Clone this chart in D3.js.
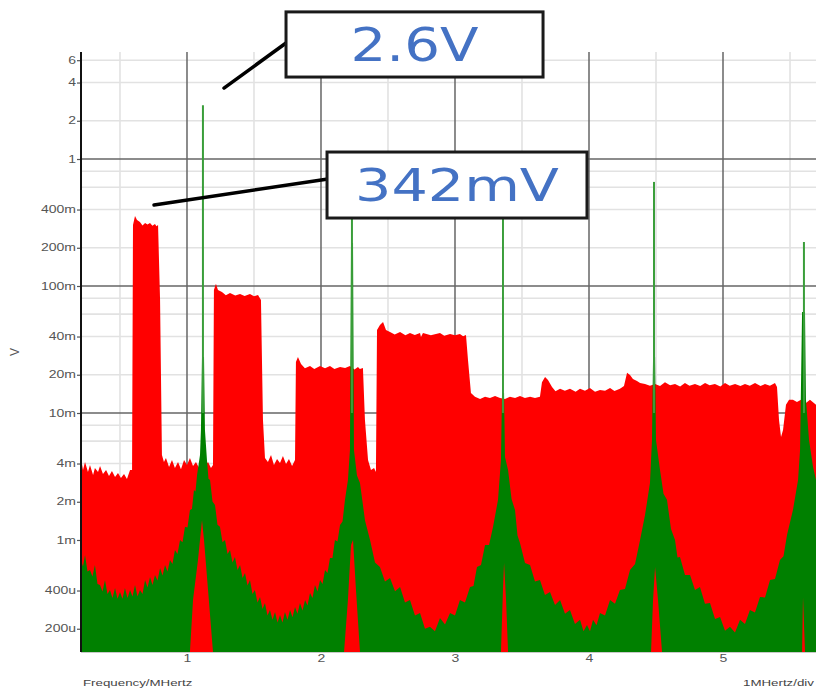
<!DOCTYPE html>
<html>
<head>
<meta charset="utf-8">
<script src="https://cdn.jsdelivr.net/npm/d3@7"></script>
<style>
  html, body { margin: 0; padding: 0; background: #fff; }
  svg { display: block; }
</style>
</head>
<body>
<svg id="chart" width="816" height="691"></svg>
<script>
// ---------------- DATA ----------------
// Red trace (upper envelope of the noise spectrum), frequency in MHz, amplitude in V
const redFreq = [0.209,0.224,0.239,0.261,0.276,0.299,0.313,0.336,0.351,0.373,0.396,0.418,0.440,0.463,0.485,0.507,0.530,0.552,0.575,0.590,
  0.597,0.612,0.627,0.649,0.687,0.724,0.761,0.784,0.799,0.813,0.828,0.843,0.866,0.888,0.910,0.933,0.955,0.978,1.000,1.022,1.045,1.067,1.090,1.112,1.134,1.157,1.179,1.194,
  1.201,1.216,1.231,1.261,1.321,1.396,1.470,1.530,1.552,1.567,1.582,1.604,1.627,1.649,1.672,1.694,1.716,1.739,1.761,1.784,1.806,
  1.813,1.828,1.851,1.918,1.993,2.067,2.142,2.216,2.276,2.313,2.328,2.351,2.373,2.396,2.410,
  2.418,2.440,2.463,2.485,2.515,2.590,2.664,2.739,2.746,2.761,2.888,2.963,3.037,3.082,3.097,3.119,
  3.149,3.187,3.224,3.261,3.299,3.336,3.373,3.410,3.448,3.485,3.522,3.560,3.597,3.634,
  3.649,3.672,3.694,3.724,3.784,3.858,3.933,4.007,4.082,4.157,4.231,4.261,4.284,4.306,4.328,4.358,4.381,4.418,
  4.493,4.567,4.642,4.716,4.791,4.866,4.940,5.015,5.090,5.164,5.239,5.313,5.388,5.403,
  5.418,5.433,5.448,5.470,5.493,5.522,5.552,5.582,5.619,5.649,5.694];
const redVolts = [4.42e-3,3.56e-3,4.11e-3,3.43e-3,3.90e-3,3.25e-3,3.69e-3,3.43e-3,3.83e-3,3.31e-3,3.56e-3,3.19e-3,3.49e-3,3.13e-3,3.37e-3,3.08e-3,3.31e-3,3.02e-3,3.56e-3,3.56e-3,
  0.302,0.356,0.331,0.319,0.313,0.313,0.308,0.302,0.0776,4.67e-3,4.11e-3,4.42e-3,3.76e-3,4.27e-3,3.69e-3,4.11e-3,3.61e-3,4.27e-3,3.90e-3,4.42e-3,3.83e-3,4.11e-3,3.69e-3,4.04e-3,3.83e-3,4.11e-3,3.69e-3,3.90e-3,
  0.093,0.104,0.093,0.0897,0.088,0.0865,0.0865,0.085,0.0776,8.81e-3,4.42e-3,4.11e-3,4.67e-3,3.90e-3,4.34e-3,4.04e-3,4.59e-3,3.97e-3,4.34e-3,3.83e-3,4.27e-3,
  0.0252,0.0276,0.0243,0.0234,0.0234,0.0234,0.0230,0.0234,0.0230,0.0226,8.81e-3,4.27e-3,3.56e-3,3.69e-3,3.43e-3,
  0.045,0.0493,0.052,0.045,0.0434,0.0434,0.0426,0.0426,0.0397,0.0426,0.0426,0.0419,0.0419,0.0411,0.0261,0.0144,
  0.0134,0.0129,0.0134,0.0131,0.0136,0.0131,0.0129,0.0134,0.0131,0.0136,0.0131,0.0134,0.0131,0.0134,
  0.0175,0.0192,0.0182,0.0160,0.0155,0.0155,0.0155,0.0157,0.0152,0.0157,0.0155,0.0163,0.0207,0.0199,0.0185,0.0179,0.0172,0.0169,
  0.0169,0.0175,0.0169,0.0172,0.0169,0.0172,0.0169,0.0172,0.0169,0.0169,0.0172,0.0169,0.0172,0.0160,
  8.81e-3,6.47e-3,7.34e-3,0.0116,0.0127,0.0127,0.0122,0.0127,0.0120,0.0127,0.0116];
// Small dips on the flat tops of the red blocks
const redNotchFreq = [0.668,0.705,0.742,0.772, 1.29,1.36,1.43,1.50, 1.88,1.95,2.03,2.10,2.18,2.25,2.29,
  2.55,2.63,2.70,2.82,2.92,3.00,3.06, 3.75,3.82,3.90,3.97,4.045,4.12,4.19,
  4.455,4.53,4.605,4.68,4.75,4.83,4.90,4.98,5.05,5.13,5.20,5.28,5.35];
const redNotchVolts = [0.300,0.305,0.298,0.295, 0.0845,0.084,0.0835,0.083, 0.0225,0.0222,0.0225,0.0222,0.0226,0.022,0.0222,
  0.0415,0.041,0.0412,0.041,0.0405,0.041,0.0402, 0.0148,0.0150,0.0147,0.0150,0.0147,0.0150,0.0149,
  0.0164,0.0163,0.0165,0.0162,0.0164,0.0163,0.0165,0.0162,0.0164,0.0163,0.0164,0.0163,0.0164];

// Green trace upper envelope (harmonic skirts)
const greenFreq = [0.209,0.239,0.276,0.313,0.351,0.388,0.425,0.463,0.500,0.537,0.575,0.612,0.649,0.687,0.724,0.761,0.799,0.836,0.873,0.910,0.948,0.985,1.022,1.052,1.075,1.097,1.104,1.112,
  1.127,1.134,1.149,1.172,1.209,1.246,1.284,1.321,1.358,1.396,1.433,1.470,1.507,1.545,1.582,1.619,1.657,1.694,1.731,1.769,1.806,1.843,1.881,1.918,1.955,1.993,2.030,2.067,2.104,2.142,2.179,2.201,2.216,2.224,
  2.239,2.246,2.291,2.366,2.440,2.515,2.590,2.664,2.739,2.813,2.888,2.963,3.037,3.112,3.164,3.224,3.284,3.321,3.343,3.351,
  3.366,3.373,3.396,3.448,3.485,3.560,3.634,3.709,3.784,3.858,3.933,3.985,4.030,4.082,4.157,4.231,4.306,4.381,4.418,4.455,4.470,4.478,
  4.493,4.500,4.530,4.582,4.642,4.679,4.754,4.828,4.903,4.978,5.052,5.127,5.201,5.276,5.351,5.425,5.478,5.522,5.560,5.575,5.590,
  5.612,5.619,5.642,5.672,5.694];
const greenVolts = [6.96e-4,7.62e-4,5.80e-4,6.36e-4,4.42e-4,4.84e-4,4.04e-4,4.19e-4,3.90e-4,4.19e-4,4.04e-4,4.42e-4,4.04e-4,4.84e-4,5.11e-4,5.30e-4,6.02e-4,6.36e-4,6.96e-4,8.34e-4,1.0e-3,1.27e-3,1.72e-3,2.48e-3,3.25e-3,4.67e-3,7.34e-3,0.0276,
  0.0276,7.34e-3,4.27e-3,2.97e-3,1.89e-3,1.27e-3,1.0e-3,8.34e-4,7.35e-4,6.36e-4,5.50e-4,4.84e-4,4.04e-4,3.56e-4,3.19e-4,2.81e-4,2.71e-4,2.57e-4,2.71e-4,2.81e-4,2.97e-4,3.19e-4,3.37e-4,3.83e-4,4.42e-4,4.84e-4,5.80e-4,7.22e-4,1.0e-3,1.31e-3,2.07e-3,2.97e-3,5.11e-3,0.218,
  0.218,5.11e-3,2.81e-3,1.0e-3,6.13e-4,5.02e-4,4.27e-4,3.37e-4,2.66e-4,2.07e-4,2.43e-4,2.66e-4,3.37e-4,4.27e-4,6.13e-4,9.13e-4,1.27e-3,2.07e-3,4.27e-3,0.0144,
  0.0144,4.50e-3,3.56e-3,1.72e-3,9.47e-4,6.36e-4,4.84e-4,3.90e-4,3.37e-4,2.81e-4,2.35e-4,2.14e-4,2.35e-4,2.66e-4,3.37e-4,4.04e-4,5.80e-4,1.0e-3,1.57e-3,2.81e-3,6.13e-3,0.0276,
  0.0276,6.13e-3,3.56e-3,2.07e-3,1.0e-3,7.35e-4,5.30e-4,4.27e-4,3.19e-4,2.48e-4,2.07e-4,2.35e-4,2.81e-4,3.56e-4,4.84e-4,6.96e-4,1.10e-3,1.72e-3,2.97e-3,5.11e-3,0.0624,
  0.0624,0.0127,6.13e-3,3.76e-3,2.97e-3];
// Serration notches along the green skirts
const greenNotchFreq = [0.224,0.2575,0.2945,0.332,0.3695,0.4065,0.444,0.4815,0.5185,0.556,0.5935,0.6305,0.668,0.7055,0.7425,0.78,0.8175,0.8545,0.8915,0.929,0.9665,1.0035,1.037,1.0635,
  1.1605,1.1905,1.2275,1.265,1.3025,1.3395,1.377,1.4145,1.4515,1.4885,1.526,1.5635,1.6005,1.638,1.6755,1.7125,1.75,1.7875,1.8245,1.862,1.8995,1.9365,1.974,2.0115,2.0485,2.0855,2.123,2.1605,
  2.2685,2.3285,2.403,2.4775,2.5525,2.627,2.7015,2.776,2.8505,2.9255,3.0,3.0745,3.138,3.194,3.254,
  3.422,3.4665,3.5225,3.597,3.6715,3.7465,3.821,3.8955,3.959,4.0075,4.056,4.1195,4.194,4.2685,4.3435,
  4.556,4.612,4.6605,4.7165,4.791,4.8655,4.9405,5.015,5.0895,5.164,5.2385,5.3135,5.388,5.4515];
const greenNotchVolts = [6.19e-4,5.65e-4,5.16e-4,4.51e-4,3.93e-4,3.76e-4,3.50e-4,3.44e-4,3.44e-4,3.50e-4,3.59e-4,3.59e-4,3.76e-4,4.23e-4,4.42e-4,4.80e-4,5.26e-4,5.65e-4,6.48e-4,7.76e-4,9.58e-4,1.256e-3,1.755e-3,2.41e-3,
  3.03e-3,2.01e-3,1.317e-3,9.58e-4,7.76e-4,6.66e-4,5.81e-4,5.03e-4,4.39e-4,3.76e-4,3.22e-4,2.86e-4,2.54e-4,2.35e-4,2.24e-4,2.24e-4,2.35e-4,2.46e-4,2.62e-4,2.79e-4,3.05e-4,3.50e-4,3.93e-4,4.50e-4,5.50e-4,7.22e-4,9.73e-4,1.40e-3,
  3.22e-3,1.425e-3,6.66e-4,4.71e-4,3.94e-4,3.22e-4,2.54e-4,2.0e-4,1.91e-4,2.16e-4,2.54e-4,3.22e-4,4.35e-4,6.36e-4,9.15e-4,
  2.10e-3,1.085e-3,6.60e-4,4.72e-4,3.69e-4,3.08e-4,2.62e-4,2.18e-4,1.91e-4,1.91e-4,2.13e-4,2.54e-4,3.14e-4,4.11e-4,6.47e-4,
  2.31e-3,1.22e-3,7.29e-4,5.30e-4,4.04e-4,3.14e-4,2.39e-4,1.93e-4,1.87e-4,2.18e-4,2.69e-4,3.53e-4,4.93e-4,7.44e-4];

// Green trace lower envelope near the harmonics (elsewhere it sits at the bottom of the scale)
const greenLowFreq = [1.022,1.045,1.082,1.112,1.127,1.157,1.194,
  2.172,2.201,2.224,2.239,2.261,2.291,
  3.343,3.358,3.366,3.381,3.396,
  4.463,4.478,4.493,4.515,4.545,
  5.590,5.597,5.612];
const greenLowVolts = [1.312e-4,3.37e-4,6.96e-4,1.43e-3,1.0e-3,4.04e-4,1.312e-4,
  1.312e-4,3.37e-4,9.13e-4,1.0e-3,4.04e-4,1.312e-4,
  1.312e-4,4.04e-4,6.6e-4,3.37e-4,1.312e-4,
  1.312e-4,3.37e-4,6.13e-4,3.37e-4,1.312e-4,
  1.312e-4,3.56e-4,1.312e-4];

// Harmonic spikes of the green trace
const peakFreq = [1.119, 2.231, 3.358, 4.485, 5.604];
const peakVolts = [2.65, 0.9, 0.5, 0.66, 0.222];

// Axis ticks
const yTickValues = [6, 4, 2, 1, 0.4, 0.2, 0.1, 0.04, 0.02, 0.01, 0.004, 0.002, 0.001, 0.0004, 0.0002];
const yTickLabels = ["6", "4", "2", "1", "400m", "200m", "100m", "40m", "20m", "10m", "4m", "2m", "1m", "400u", "200u"];
const yMajorGrid = [1, 0.1, 0.01, 0.001];
const yMinorGrid = [6, 4, 2, 0.8, 0.6, 0.4, 0.2, 0.08, 0.06, 0.04, 0.02, 0.008, 0.006, 0.004, 0.002, 0.0008, 0.0006, 0.0004, 0.0002];
const xTickValues = [1, 2, 3, 4, 5];
const xTickLabels = ["1", "2", "3", "4", "5"];
const xMinorGrid = [0.5, 1.5, 2.5, 3.5, 4.5, 5.5];

// Annotations (box corners and leader line ends in data units)
const annotations = [
  { text: "2.6V",  f0: 1.739, f1: 3.657, v0: 14.4, v1: 4.42, lineFrom: [1.276, 3.62], lineTo: [1.739, 8.19], size: 47, len: 128 },
  { text: "342mV", f0: 2.045, f1: 3.985, v0: 1.135, v1: 0.343, lineFrom: [0.754, 0.434], lineTo: [2.052, 0.696], size: 44, len: 204 }
];

// ---------------- CHART ----------------
const svg = d3.select("#chart");
const plot = { left: 81, right: 816, top: 52, bottom: 652 };
const x = d3.scaleLinear().domain([0.209, 5.694]).range([plot.left, plot.right]);
const y = d3.scaleLog().domain([1.312e-4, 6.96]).range([plot.bottom, plot.top]);
const yFloor = y.domain()[0];

svg.append("defs").append("clipPath").attr("id", "clip")
  .append("rect").attr("x", plot.left).attr("y", plot.top)
  .attr("width", plot.right - plot.left).attr("height", plot.bottom - plot.top);

// Grid
const grid = svg.append("g");
grid.selectAll(".hmin").data(yMinorGrid).join("line")
  .attr("x1", plot.left).attr("x2", plot.right)
  .attr("y1", d => y(d)).attr("y2", d => y(d))
  .attr("stroke", "#e2e2e2").attr("stroke-width", 1.6);
grid.selectAll(".vmin").data(xMinorGrid).join("line")
  .attr("x1", d => x(d)).attr("x2", d => x(d))
  .attr("y1", plot.top).attr("y2", plot.bottom)
  .attr("stroke", "#e2e2e2").attr("stroke-width", 1.6);
grid.selectAll(".hmaj").data(yMajorGrid).join("line")
  .attr("x1", plot.left).attr("x2", plot.right)
  .attr("y1", d => y(d)).attr("y2", d => y(d))
  .attr("stroke", "#666").attr("stroke-width", 1.5);
grid.selectAll(".vmaj").data(xTickValues).join("line")
  .attr("x1", d => x(d)).attr("x2", d => x(d))
  .attr("y1", plot.top).attr("y2", plot.bottom)
  .attr("stroke", "#666").attr("stroke-width", 1.5);

const traces = svg.append("g").attr("clip-path", "url(#clip)");

// Red area (main envelope merged with the small dips, sorted by frequency)
const redData = redFreq.map((f, i) => [f, redVolts[i]])
  .concat(redNotchFreq.map((f, i) => [f, redNotchVolts[i]]))
  .sort((a, b) => a[0] - b[0]);
const redArea = d3.area().x(d => x(d[0])).y0(y(yFloor)).y1(d => y(d[1]));
traces.append("path").datum(redData).attr("d", redArea).attr("fill", "#ff0000");

// Green polygon (upper envelope forward, lower envelope backward)
const greenUpper = greenFreq.map((f, i) => [f, greenVolts[i]])
  .concat(greenNotchFreq.map((f, i) => [f, greenNotchVolts[i]]))
  .sort((a, b) => a[0] - b[0]);
const greenLower = [[x.domain()[0], yFloor]]
  .concat(greenLowFreq.map((f, i) => [f, greenLowVolts[i]]))
  .concat([[x.domain()[1], yFloor]]);
const greenPoly = greenUpper.concat(greenLower.slice().reverse());
const line = d3.line().x(d => x(d[0])).y(d => y(d[1]));
traces.append("path").attr("d", line(greenPoly) + "Z").attr("fill", "#008000");

// Spikes
traces.selectAll(".spike").data(peakFreq).join("line")
  .attr("x1", d => x(d)).attr("x2", d => x(d))
  .attr("y1", y(0.01)).attr("y2", (d, i) => y(peakVolts[i]))
  .attr("stroke", "#3a9e3a").attr("stroke-width", 2);

// Bottom line
svg.append("line").attr("x1", plot.left).attr("x2", plot.right)
  .attr("y1", plot.bottom + 0.5).attr("y2", plot.bottom + 0.5)
  .attr("stroke", "#c8c8c8").attr("stroke-width", 1);

// Y axis
const yAxis = d3.axisLeft(y).tickValues(yTickValues)
  .tickFormat((d, i) => yTickLabels[i]).tickSize(4).tickPadding(1);
const gy = svg.append("g").attr("transform", `translate(${plot.left},0)`).call(yAxis);
gy.select(".domain").remove();
gy.selectAll(".tick line").attr("stroke", "#555").attr("stroke-width", 1.2);
gy.selectAll(".tick text").attr("fill", "#555")
  .style("font-family", "'Liberation Sans', Arial, sans-serif").style("font-size", "10px");
svg.append("line").attr("x1", plot.left).attr("x2", plot.left)
  .attr("y1", plot.top).attr("y2", plot.bottom)
  .attr("stroke", "#111").attr("stroke-width", 2);

// X axis
const xAxis = d3.axisBottom(x).tickValues(xTickValues)
  .tickFormat((d, i) => xTickLabels[i]).tickSize(0).tickPadding(3);
const gx = svg.append("g").attr("transform", `translate(0,${plot.bottom})`).call(xAxis);
gx.select(".domain").remove();
gx.selectAll(".tick text").attr("fill", "#555")
  .style("font-family", "'Liberation Sans', Arial, sans-serif").style("font-size", "10px");

// Stretch small texts horizontally to mimic the reference
function stretch(sel, k) {
  sel.each(function () {
    const w = this.getComputedTextLength();
    d3.select(this).attr("textLength", w * k).attr("lengthAdjust", "spacingAndGlyphs");
  });
}
stretch(gy.selectAll(".tick text"), 1.4);
stretch(gx.selectAll(".tick text"), 1.4);

// Axis titles
const t1 = svg.append("text").attr("x", 83).attr("y", 686).text("Frequency/MHertz")
  .attr("fill", "#444").style("font-family", "'Liberation Sans', Arial, sans-serif").style("font-size", "9.5px");
const t2 = svg.append("text").attr("x", 743).attr("y", 686).text("1MHertz/div")
  .attr("fill", "#444").style("font-family", "'Liberation Sans', Arial, sans-serif").style("font-size", "9.5px");
stretch(t1, 1.4); stretch(t2, 1.4);
svg.append("text").attr("transform", "translate(19,352) rotate(-90)")
  .attr("text-anchor", "middle").text("V").attr("fill", "#555")
  .style("font-family", "'Liberation Sans', Arial, sans-serif").style("font-size", "12px");

// Annotations
const ann = svg.append("g");
annotations.forEach(a => {
  ann.append("line")
    .attr("x1", x(a.lineFrom[0])).attr("y1", y(a.lineFrom[1]))
    .attr("x2", x(a.lineTo[0])).attr("y2", y(a.lineTo[1]))
    .attr("stroke", "#000").attr("stroke-width", 3.5).attr("stroke-linecap", "round");
  const bx = x(a.f0), by = y(a.v0), bw = x(a.f1) - x(a.f0), bh = y(a.v1) - y(a.v0);
  ann.append("rect").attr("x", bx).attr("y", by).attr("width", bw).attr("height", bh)
    .attr("fill", "#fff").attr("stroke", "#1a1a1a").attr("stroke-width", 3);
  ann.append("text").attr("x", bx + bw / 2).attr("y", by + bh / 2)
    .attr("text-anchor", "middle").attr("dominant-baseline", "central")
    .attr("fill", "#4472c4")
    .style("font-family", "'DejaVu Sans', Verdana, sans-serif").style("font-size", a.size + "px")
    .attr("textLength", a.len).attr("lengthAdjust", "spacingAndGlyphs")
    .text(a.text);
});
</script>
</body>
</html>
